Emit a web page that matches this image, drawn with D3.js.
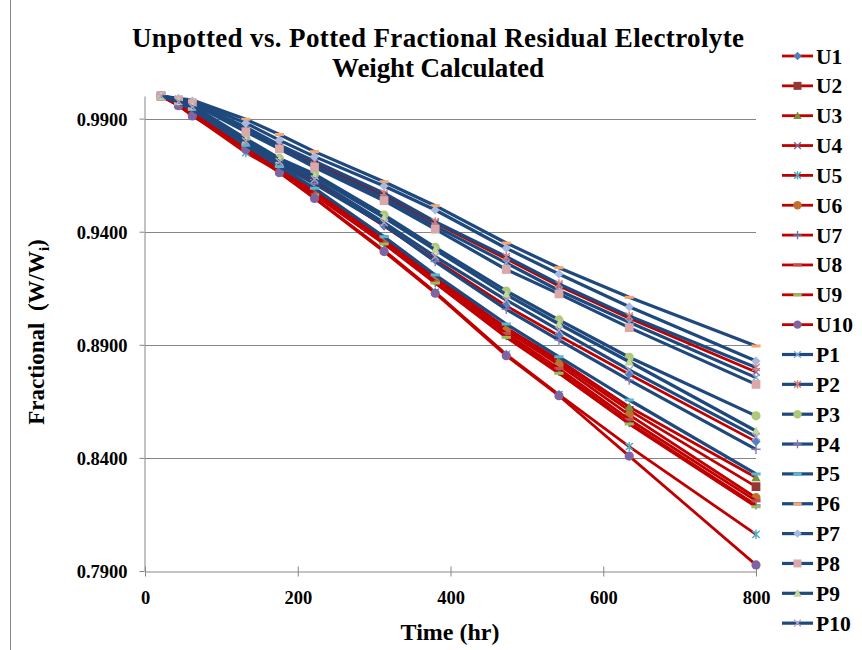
<!DOCTYPE html>
<html>
<head>
<meta charset="utf-8">
<script src="https://cdn.jsdelivr.net/npm/d3@7"></script>
<style>
  body { margin: 0; background: #fff; }
  svg { display: block; }
  text { font-family: "Liberation Serif", "Times New Roman", serif; font-weight: bold; fill: #000; }
</style>
</head>
<body>
<svg id="drawing_region"></svg>
<script>
// time points (hr)
const times = [21, 44, 62, 132, 176, 222, 313, 380, 473, 542, 634, 800];

// unpotted cells
const U1  = [1.0000, 0.9972, 0.9945, 0.9795, 0.9703, 0.9622, 0.9425, 0.9275, 0.9072, 0.8940, 0.8770, 0.8472];
const U2  = [1.0000, 0.9965, 0.9930, 0.9782, 0.9686, 0.9580, 0.9365, 0.9192, 0.8968, 0.8822, 0.8610, 0.8273];
const U3  = [1.0000, 0.9966, 0.9932, 0.9785, 0.9690, 0.9585, 0.9370, 0.9200, 0.8975, 0.8833, 0.8625, 0.8313];
const U4  = [1.0000, 0.9982, 0.9968, 0.9855, 0.9775, 0.9700, 0.9560, 0.9438, 0.9280, 0.9160, 0.9018, 0.8780];
const U5  = [1.0000, 0.9958, 0.9915, 0.9750, 0.9665, 0.9550, 0.9318, 0.9133, 0.8858, 0.8680, 0.8450, 0.8062];
const U6  = [1.0000, 0.9963, 0.9927, 0.9778, 0.9680, 0.9575, 0.9358, 0.9185, 0.8962, 0.8811, 0.8590, 0.8224];
const U7  = [1.0000, 0.9961, 0.9922, 0.9774, 0.9674, 0.9566, 0.9350, 0.9176, 0.8940, 0.8782, 0.8556, 0.8192];
const U8  = [1.0000, 0.9962, 0.9925, 0.9776, 0.9677, 0.9570, 0.9354, 0.9180, 0.8950, 0.8795, 0.8570, 0.8210];
const U9  = [1.0000, 0.9960, 0.9920, 0.9772, 0.9670, 0.9562, 0.9346, 0.9173, 0.8933, 0.8774, 0.8550, 0.8184];
const U10 = [1.0000, 0.9957, 0.9912, 0.9764, 0.9661, 0.9547, 0.9312, 0.9128, 0.8852, 0.8675, 0.8408, 0.7927];

// potted cells
const P1  = [1.0000, 0.9984, 0.9970, 0.9850, 0.9770, 0.9694, 0.9550, 0.9425, 0.9262, 0.9140, 0.9000, 0.8755];
const P2  = [1.0000, 0.9985, 0.9972, 0.9862, 0.9784, 0.9712, 0.9570, 0.9444, 0.9290, 0.9169, 0.9027, 0.8800];
const P3  = [1.0000, 0.9978, 0.9958, 0.9812, 0.9724, 0.9655, 0.9474, 0.9331, 0.9138, 0.9010, 0.8845, 0.8586];
const P4  = [1.0000, 0.9974, 0.9948, 0.9790, 0.9698, 0.9612, 0.9430, 0.9268, 0.9057, 0.8921, 0.8744, 0.8438];
const P5  = [1.0000, 0.9970, 0.9940, 0.9782, 0.9688, 0.9592, 0.9378, 0.9209, 0.8992, 0.8847, 0.8656, 0.8329];
const P6  = [1.0000, 0.9990, 0.9982, 0.9897, 0.9830, 0.9754, 0.9621, 0.9515, 0.9350, 0.9241, 0.9110, 0.8895];
const P7  = [1.0000, 0.9988, 0.9978, 0.9880, 0.9805, 0.9732, 0.9602, 0.9496, 0.9327, 0.9213, 0.9068, 0.8828];
const P8  = [1.0000, 0.9983, 0.9966, 0.9842, 0.9766, 0.9685, 0.9537, 0.9411, 0.9233, 0.9125, 0.8976, 0.8725];
const P9  = [1.0000, 0.9976, 0.9955, 0.9805, 0.9718, 0.9645, 0.9462, 0.9320, 0.9122, 0.8992, 0.8825, 0.8519];
const P10 = [1.0000, 0.9975, 0.9952, 0.9800, 0.9710, 0.9632, 0.9440, 0.9290, 0.9098, 0.8965, 0.8789, 0.8494];

const seriesNames = ['U1','U2','U3','U4','U5','U6','U7','U8','U9','U10',
                     'P1','P2','P3','P4','P5','P6','P7','P8','P9','P10'];
const seriesValues = [U1,U2,U3,U4,U5,U6,U7,U8,U9,U10,P1,P2,P3,P4,P5,P6,P7,P8,P9,P10];

const yTicks = [0.79, 0.84, 0.89, 0.94, 0.99];
const xTicks = [0, 200, 400, 600, 800];

// marker shape and colour for each series
const markerShapes = ['diamond','square','triangle','x','star','circle','plus','dash','dash','circle',
                      'x','star','circle','plus','dash','dash','diamond','square','triangle','x'];
const markerColors = ['#4F81BD','#953735','#77933C','#8064A2','#4BACC6','#C0712F','#4F81BD','#C0504D','#9BBB59','#8064A2',
                      '#7FA9D6','#D77B78','#AFC97A','#8C78B0','#5DB4CE','#F9A56B','#A7B9E3','#DAA8A8','#C3D69B','#B3A2C7'];

const config = {
    width: 862,
    height: 650,
    plot: {left: 145, right: 756, top: 96, bottom: 571},
    title: ['Unpotted vs. Potted Fractional Residual Electrolyte', 'Weight Calculated']
};

const svg = d3.select('#drawing_region')
    .attr('width', config.width)
    .attr('height', config.height);

// outer chart border (left edge visible)
svg.append('line')
    .attr('x1', 10.5).attr('x2', 10.5)
    .attr('y1', 0).attr('y2', config.height)
    .attr('stroke', '#888').attr('stroke-width', 1);

const xscale = d3.scaleLinear().domain([0, 800]).range([config.plot.left, config.plot.right]);
const yscale = d3.scaleLinear().domain([0.79, 1.0]).range([config.plot.bottom, config.plot.top]);

// gridlines
svg.append('g').selectAll('line')
    .data(yTicks.slice(1))
    .join('line')
    .attr('x1', config.plot.left).attr('x2', config.plot.right)
    .attr('y1', d => Math.round(yscale(d)) + 0.5).attr('y2', d => Math.round(yscale(d)) + 0.5)
    .attr('stroke', '#868686').attr('stroke-width', 1);

// axes
const xaxis = d3.axisBottom(xscale).tickValues(xTicks).tickSize(0).tickFormat(d3.format('d'));
const yaxis = d3.axisLeft(yscale).tickValues(yTicks).tickSize(0).tickFormat(d3.format('.4f'));

const xg = svg.append('g')
    .attr('transform', `translate(0, ${Math.round(yscale(0.79)) + 0.5})`)
    .call(xaxis);
xg.select('.domain').attr('stroke', '#868686');
xg.selectAll('.tick line').remove();
xg.selectAll('.tick').append('line')
    .attr('y1', -5).attr('y2', 5).attr('stroke', '#868686');
xg.selectAll('.tick text')
    .attr('y', 32).attr('dy', 0)
    .style('font-size', '18.5px').style('font-family', '"Liberation Serif", serif').style('font-weight', 'bold');

const yg = svg.append('g')
    .attr('transform', `translate(${config.plot.left - 0.5}, 0)`)
    .call(yaxis);
yg.select('.domain').attr('stroke', '#868686');
yg.selectAll('.tick line').remove();
yg.selectAll('.tick').append('line')
    .attr('x1', -5).attr('x2', 0).attr('stroke', '#868686');
yg.selectAll('.tick text')
    .attr('x', -17).attr('dy', '0.35em')
    .style('font-size', '18.5px').style('font-family', '"Liberation Serif", serif').style('font-weight', 'bold');

// title
svg.append('text')
    .attr('text-anchor', 'middle')
    .attr('x', 438).attr('y', 47)
    .attr('textLength', 612)
    .style('font-size', '27px')
    .text(config.title[0]);
svg.append('text')
    .attr('text-anchor', 'middle')
    .attr('x', 438).attr('y', 77)
    .attr('textLength', 212)
    .style('font-size', '27px')
    .text(config.title[1]);

// axis titles
svg.append('text')
    .attr('text-anchor', 'middle')
    .attr('x', 450).attr('y', 640)
    .style('font-size', '24px')
    .text('Time (hr)');

const ylab = svg.append('text')
    .attr('text-anchor', 'middle')
    .attr('transform', 'translate(44, 332) rotate(-90)')
    .style('font-size', '23px');
ylab.append('tspan').text('Fractional\u00a0\u00a0(W/W');
ylab.append('tspan').attr('dy', 5).style('font-size', '15px').text('i');
ylab.append('tspan').attr('dy', -5).text(')');

// marker path generator
function markerPath(shape, s){
    switch(shape){
        case 'diamond': return `M0,${-s}L${s},0L0,${s}L${-s},0Z`;
        case 'square': return `M${-s*0.95},${-s*0.95}h${s*1.9}v${s*1.9}h${-s*1.9}Z`;
        case 'triangle': return `M0,${-s}L${s},${s*0.8}L${-s},${s*0.8}Z`;
        case 'circle': return d3.symbol(d3.symbolCircle, Math.PI * s * s)();
        case 'x': return `M${-s*0.8},${-s*0.8}L${s*0.8},${s*0.8}M${-s*0.8},${s*0.8}L${s*0.8},${-s*0.8}`;
        case 'star': return `M${-s*0.8},${-s*0.8}L${s*0.8},${s*0.8}M${-s*0.8},${s*0.8}L${s*0.8},${-s*0.8}M0,${-s}L0,${s}`;
        case 'plus': return `M${-s},0L${s},0M0,${-s}L0,${s}`;
        case 'dash': return `M${-s},-1.5h${2*s}v3h${-2*s}Z`;
    }
}
const filledShapes = ['diamond','square','triangle','circle','dash'];

function drawMarker(g, shape, color, s){
    const filled = filledShapes.includes(shape);
    g.append('path')
        .attr('d', markerPath(shape, s))
        .attr('fill', filled ? color : 'none')
        .attr('stroke', filled ? 'none' : color)
        .attr('stroke-width', filled ? 0 : 1.4);
}

const line = d3.line()
    .x((d, i) => xscale(times[i]))
    .y(d => yscale(d));

const lineColor = name => name[0] === 'U' ? '#C00000' : '#1F497D';
const lineWidth = name => name[0] === 'U' ? 2.8 : 3.2;

// series lines and markers, in series order
seriesNames.forEach((name, k) => {
    const vals = seriesValues[k];
    svg.append('path')
        .attr('d', line(vals))
        .attr('fill', 'none')
        .attr('stroke', lineColor(name))
        .attr('stroke-width', lineWidth(name))
        .attr('stroke-linejoin', 'round');
    vals.forEach((v, i) => {
        const g = svg.append('g')
            .attr('transform', `translate(${xscale(times[i])}, ${yscale(v)})`);
        drawMarker(g, markerShapes[k], markerColors[k], 4.6);
    });
});

// legend
const legend = svg.append('g');
seriesNames.forEach((name, k) => {
    const y = 56 + k * 29.85;
    const g = legend.append('g').attr('transform', `translate(0, ${y})`);
    g.append('line')
        .attr('x1', 782).attr('x2', 813)
        .attr('stroke', lineColor(name))
        .attr('stroke-width', lineWidth(name));
    const m = g.append('g').attr('transform', 'translate(797.5, 0)');
    drawMarker(m, markerShapes[k], markerColors[k], 4.2);
    g.append('text')
        .attr('x', 816).attr('dy', '0.35em')
        .style('font-size', '21.5px')
        .text(name);
});
</script>
</body>
</html>
